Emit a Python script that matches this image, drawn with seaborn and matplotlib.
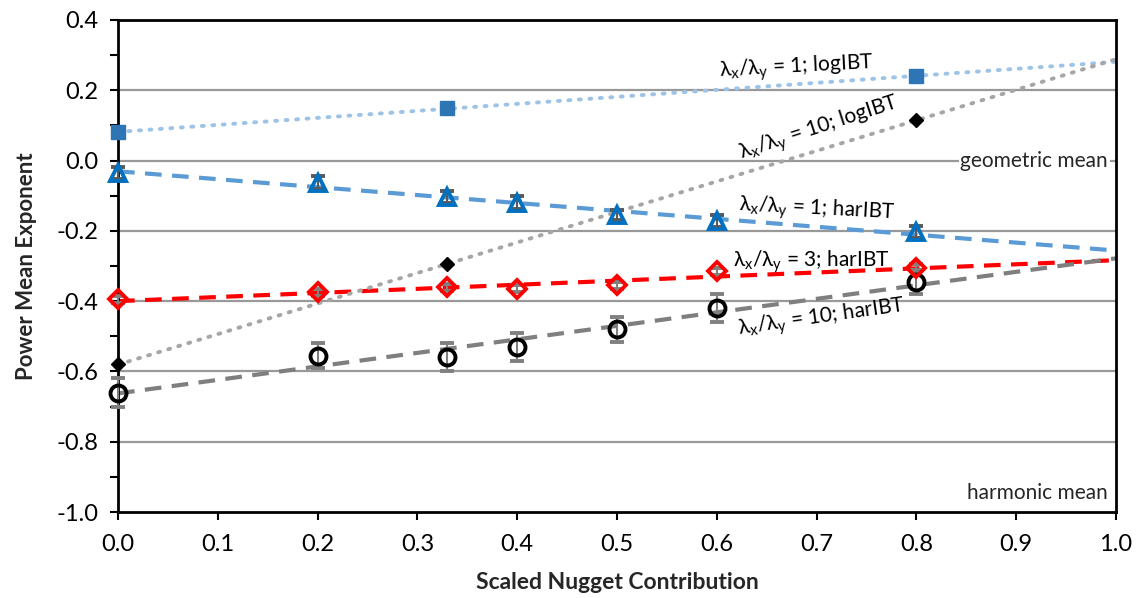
import numpy as np
import pandas as pd
import seaborn as sns
import matplotlib.pyplot as plt
from matplotlib.ticker import MultipleLocator

sns.set_style('white')
plt.rcParams['font.family'] = ['Lato', 'DejaVu Sans']
plt.rcParams['mathtext.fontset'] = 'custom'
plt.rcParams['mathtext.rm'] = 'Lato'
plt.rcParams['mathtext.it'] = 'Lato'
plt.rcParams['axes.unicode_minus'] = False

# data
x_full = [0.0, 0.2, 0.33, 0.4, 0.5, 0.6, 0.8]
x_log = [0.0, 0.33, 0.8]

log_r1 = [0.08, 0.15, 0.24]
log_r10 = [-0.58, -0.295, 0.115]

har_r1 = [-0.035, -0.063, -0.104, -0.12, -0.155, -0.172, -0.203]
har_r1_err = [0.018, 0.018, 0.018, 0.018, 0.015, 0.018, 0.018]
har_r3 = [-0.395, -0.375, -0.36, -0.365, -0.355, -0.315, -0.305]
har_r3_err = [0.01, 0.01, 0.01, 0.01, 0.01, 0.01, 0.01]
har_r10 = [-0.66, -0.555, -0.56, -0.53, -0.48, -0.42, -0.345]
har_r10_err = [0.04, 0.035, 0.04, 0.04, 0.035, 0.04, 0.035]

fig = plt.figure(figsize=(11.38, 5.98), dpi=100)
ax = fig.add_axes([0.1037, 0.1438, 0.877, 0.8228])
ax.set_xlim(0, 1)
ax.set_ylim(-1.0, 0.4)

# gridlines
for yv in np.arange(-0.8, 0.4, 0.2):
    ax.axhline(yv, color='#999999', lw=1.6, zorder=1)

# trend lines (linear fits over full x range)
trend = [
    (x_log, log_r1, dict(color='#9DC3E6', lw=2.8, ls=(0, (0.5, 2.2)), dash_capstyle='round')),
    (x_full, har_r1, dict(color='#5B9BD5', lw=3, ls=(0, (4, 2.5)))),
    (x_full, har_r3, dict(color='#FF0000', lw=3, ls=(0, (4, 2.5)))),
    (x_log, log_r10, dict(color='#A6A6A6', lw=2.8, ls=(0, (0.5, 2.2)), dash_capstyle='round')),
    (x_full, har_r10, dict(color='#7F7F7F', lw=3, ls=(0, (4, 2.5)))),
]
for xs, ys, kw in trend:
    df = pd.DataFrame({'x': xs, 'y': ys})
    sns.regplot(x='x', y='y', data=df, ax=ax, ci=None, scatter=False,
                truncate=False, line_kws=dict(zorder=2, **kw))
ax.set_xlim(0, 1)

# markers with error bars
eb = dict(mew=2.8, elinewidth=1.5, capsize=5, capthick=1.5, zorder=4)
conts = [
    ax.errorbar(x_full, har_r10, yerr=har_r10_err, fmt='o', ms=11.5, mfc='none', mec='black',
                ecolor='#808080', **eb),
    ax.errorbar(x_full, har_r3, yerr=har_r3_err, fmt='D', ms=9, mfc='none', mec='#FF0000',
                ecolor='#808080', **eb),
    ax.errorbar(x_full, har_r1, yerr=har_r1_err, fmt='^', ms=11.5, mfc='none', mec='#0070C0',
                ecolor='#595959', **eb),
]
for c in conts:
    for art in c.get_children():
        art.set_clip_on(False)
ax.plot(x_log, log_r1, 's', ms=9.5, color='#2E75B6', zorder=4, clip_on=False)
ax.plot(x_log, log_r10, 'D', ms=7.5, mfc='black', mec='black', zorder=4, clip_on=False)

# labels on the curves
lab = dict(fontsize=15, color='black', ha='center', va='center', zorder=5)
ax.text(0.68, 0.263, r'$\lambda_x/\lambda_y$ = 1; logIBT', rotation=3, **lab)
ax.text(0.703, 0.09, r'$\lambda_x/\lambda_y$ = 10; logIBT', rotation=18, **lab)
ax.text(0.70, -0.14, r'$\lambda_x/\lambda_y$ = 1; harIBT', rotation=-3, **lab)
ax.text(0.695, -0.289, r'$\lambda_x/\lambda_y$ = 3; harIBT', rotation=0, **lab)
ax.text(0.705, -0.448, r'$\lambda_x/\lambda_y$ = 10; harIBT', rotation=8, **lab)
ax.text(0.992, 0.0, 'geometric mean', fontsize=15, ha='right', va='center', zorder=5,
        bbox=dict(facecolor='white', edgecolor='none', pad=1))
ax.text(0.992, -0.945, 'harmonic mean', fontsize=15, ha='right', va='center', zorder=5)

# axes styling
ax.xaxis.set_major_locator(MultipleLocator(0.1))
ax.yaxis.set_major_locator(MultipleLocator(0.2))
ax.yaxis.set_minor_locator(MultipleLocator(0.1))
ax.xaxis.set_major_formatter(plt.FormatStrFormatter('%.1f'))
ax.yaxis.set_major_formatter(plt.FormatStrFormatter('%.1f'))
ax.tick_params(axis='both', which='both', direction='out', length=6, width=1.5,
               colors='black', labelsize=17)
ax.tick_params(axis='x', which='major', bottom=True, pad=10)
ax.tick_params(axis='y', which='both', left=True, pad=8)
for s in ax.spines.values():
    s.set_color('black')
    s.set_linewidth(2)
    s.set_visible(True)

ax.set_xlabel('Scaled Nugget Contribution', fontsize=16.5, fontweight='bold', labelpad=12)
ax.set_ylabel('Power Mean Exponent', fontsize=16, fontweight='bold', labelpad=14)

plt.savefig('out.png', dpi=100)
